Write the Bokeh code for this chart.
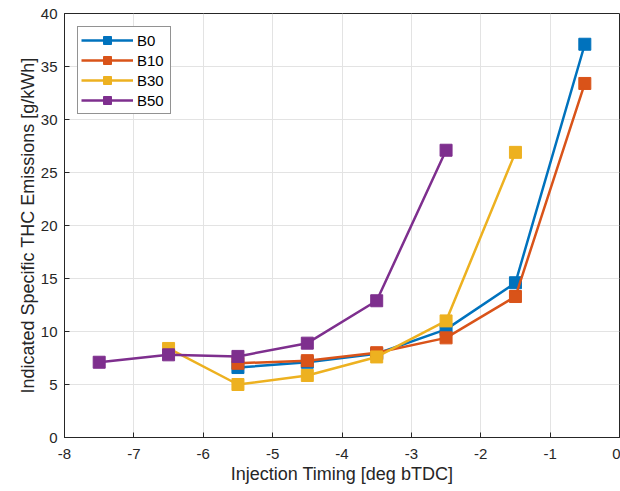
from bokeh.plotting import figure
from bokeh.models import Range1d, FixedTicker
from bokeh.embed import file_html
from bokeh.resources import INLINE

# ---- data ----
timing_b0 = [-5.5, -4.5, -3.5, -2.5, -1.5, -0.5]
thc_b0 = [6.6, 7.1, 7.9, 10.2, 14.6, 37.1]

timing_b10 = [-5.5, -4.5, -3.5, -2.5, -1.5, -0.5]
thc_b10 = [7.0, 7.25, 8.0, 9.4, 13.3, 33.4]

timing_b30 = [-6.5, -5.5, -4.5, -3.5, -2.5, -1.5]
thc_b30 = [8.4, 5.0, 5.85, 7.6, 11.0, 26.9]

timing_b50 = [-7.5, -6.5, -5.5, -4.5, -3.5, -2.5]
thc_b50 = [7.1, 7.8, 7.65, 8.9, 12.9, 27.1]

series_names = ["B0", "B10", "B30", "B50"]
series_colors = ["#0072BD", "#D95319", "#EDB120", "#7E2F8E"]
x_ticks = [-8, -7, -6, -5, -4, -3, -2, -1, 0]
y_ticks = [0, 5, 10, 15, 20, 25, 30, 35, 40]

FONT = "Liberation Sans"
AX = "#262626"

p = figure(width=620, height=491, output_backend="svg", toolbar_location=None,
           x_range=Range1d(-8, 0), y_range=Range1d(0, 40),
           min_border_left=64, min_border_right=1, min_border_top=13,
           min_border_bottom=54, background_fill_color="white",
           border_fill_color="white")
p.outline_line_color = AX
p.outline_line_width = 1

for ax in (p.xaxis[0], p.yaxis[0]):
    ax.axis_line_color = AX
    ax.major_tick_line_color = AX
    ax.major_tick_in = 5
    ax.major_tick_out = 0
    ax.minor_tick_line_color = None
    ax.major_label_text_font = FONT
    ax.major_label_text_font_size = "15px"
    ax.major_label_text_color = AX
    ax.axis_label_text_font = FONT
    ax.axis_label_text_font_size = "18px"
    ax.axis_label_text_font_style = "normal"
    ax.axis_label_text_color = AX

p.xaxis.ticker = FixedTicker(ticks=x_ticks)
p.yaxis.ticker = FixedTicker(ticks=y_ticks)
p.xaxis.major_label_overrides = {t: str(t) for t in x_ticks}
p.yaxis.major_label_overrides = {t: str(t) for t in y_ticks}
p.xaxis.axis_label = "Injection Timing [deg bTDC]"
p.yaxis.axis_label = "Indicated Specific THC Emissions [g/kWh]"
p.xaxis.major_label_standoff = 11
p.yaxis.major_label_standoff = 7
p.xaxis.axis_label_standoff = 2
p.yaxis.axis_label_standoff = 0

p.xgrid.ticker = FixedTicker(ticks=x_ticks)
p.ygrid.ticker = FixedTicker(ticks=y_ticks)
p.grid.grid_line_color = "#e3e3e3"
p.grid.grid_line_width = 1

data = [(timing_b0, thc_b0), (timing_b10, thc_b10), (timing_b30, thc_b30), (timing_b50, thc_b50)]
for (xs, ys), name, col in zip(data, series_names, series_colors):
    p.line(xs, ys, line_color=col, line_width=2.5, legend_label=name)
    p.scatter(xs, ys, marker="square", size=12, fill_color=col, line_color=col,
              legend_label=name)

lg = p.legend[0]
lg.location = "top_left"
lg.margin = 13
lg.padding = 3
lg.spacing = 0
lg.glyph_width = 52
lg.glyph_height = 20
lg.label_standoff = 4
lg.label_text_font = FONT
lg.label_text_font_size = "15px"
lg.label_text_color = "black"
lg.label_height = 20
lg.label_width = 30
lg.border_line_color = AX
lg.border_line_width = 1
lg.background_fill_alpha = 1.0

open("out.html", "w").write(file_html(p, INLINE))
